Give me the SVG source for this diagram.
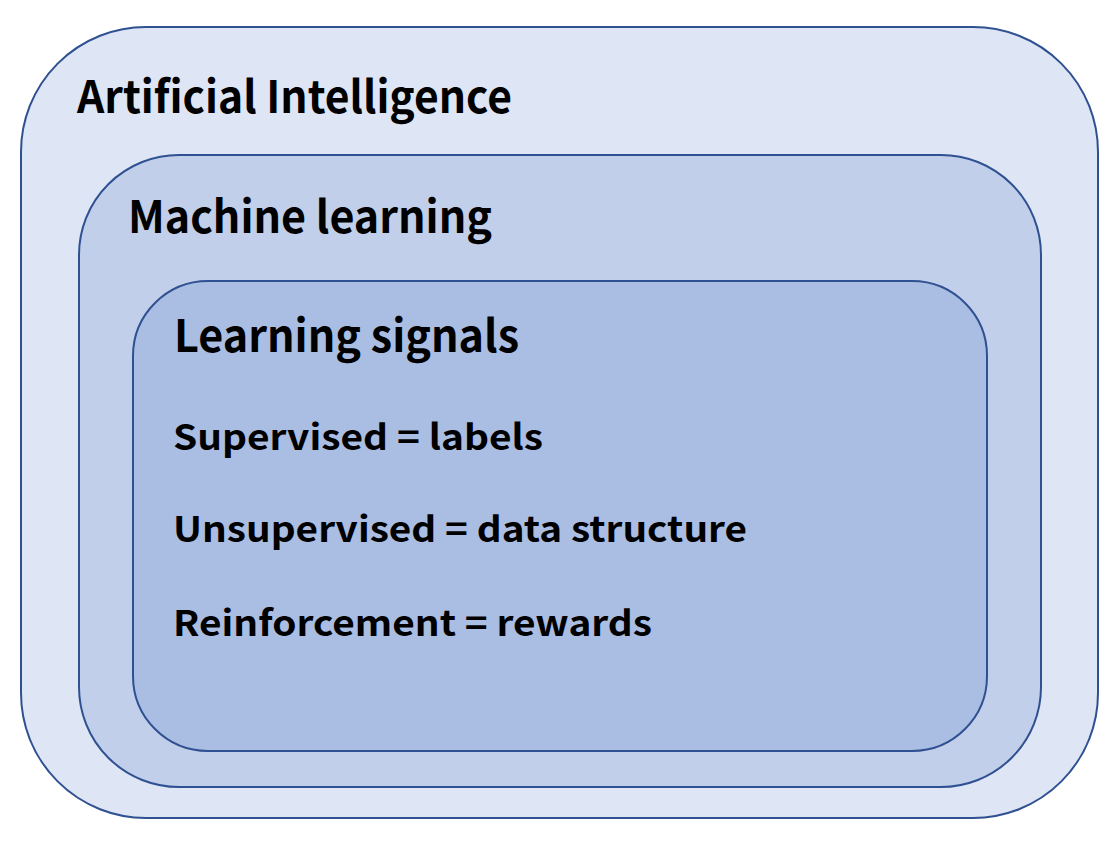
<svg xmlns="http://www.w3.org/2000/svg" width="1116" height="842" viewBox="0 0 1116 842">
<style>
.box{stroke:#2F5091;stroke-width:2}
.t{font-family:"Noto Sans CJK JP","Noto Sans",sans-serif;font-weight:bold;fill:#000}
.h{font-size:45px}
.i{font-size:35px}
</style>
<rect width="1116" height="842" fill="#fff"/>
<g id="ai">
<rect class="box" x="21" y="27" width="1077" height="791" rx="125" ry="125" fill="#DEE5F4"/>
<text class="t h" x="77" y="113" textLength="435" lengthAdjust="spacingAndGlyphs">Artificial Intelligence</text>
</g>
<g id="ml">
<rect class="box" x="79" y="155" width="962" height="632" rx="100" ry="100" fill="#C1CFEA"/>
<text class="t h" x="128" y="233" textLength="364" lengthAdjust="spacingAndGlyphs">Machine learning</text>
</g>
<g id="signals">
<rect class="box" x="133" y="281" width="854" height="470" rx="75" ry="75" fill="#AABDE3"/>
<text class="t h" x="174" y="352" textLength="345" lengthAdjust="spacingAndGlyphs">Learning signals</text>
<text class="t i" x="173" y="450" textLength="370" lengthAdjust="spacingAndGlyphs">Supervised = labels</text>
<text class="t i" x="173" y="542" textLength="574" lengthAdjust="spacingAndGlyphs">Unsupervised = data structure</text>
<text class="t i" x="173" y="636" textLength="479" lengthAdjust="spacingAndGlyphs">Reinforcement = rewards</text>
</g>
<g id="connectors"/>
</svg>
